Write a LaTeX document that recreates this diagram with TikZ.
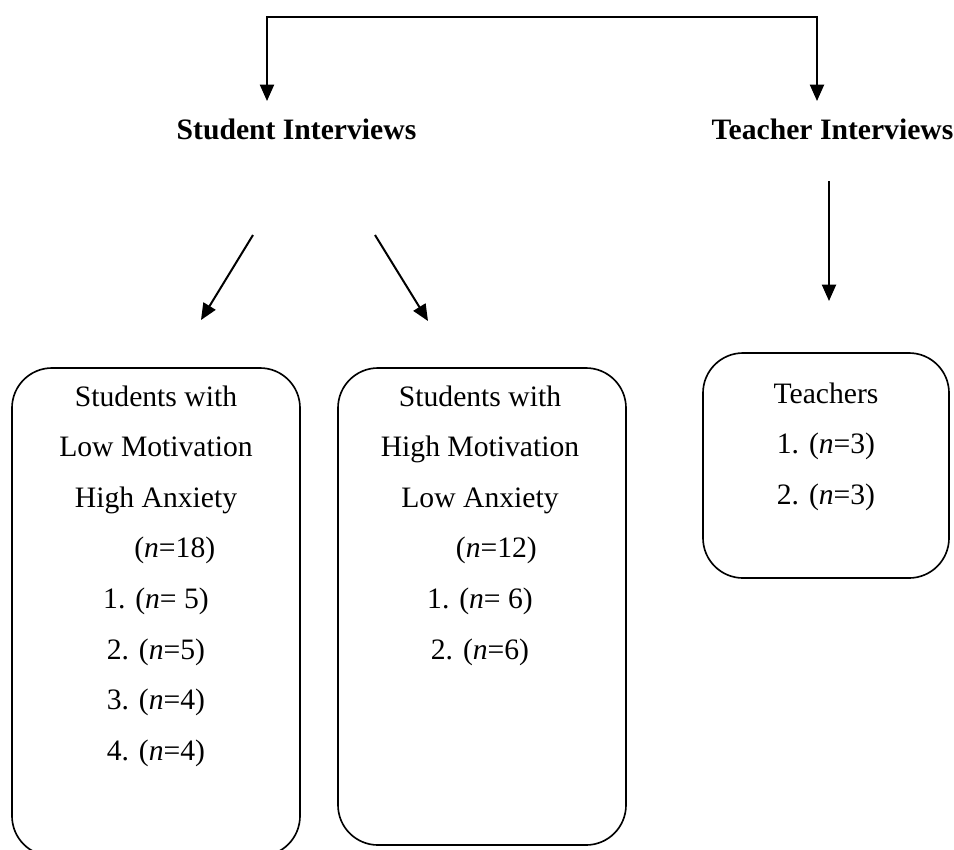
\documentclass[tikz,border=0pt]{standalone}
\usepackage{fontspec}
\setmainfont{Liberation Serif}
\usetikzlibrary{arrows.meta, positioning}
\tikzset{
  font=\fontsize{12.65}{15}\selectfont,
  >={Triangle[length=7pt, width=6pt]},
  %
  group/.style={draw=black, line width=0.7pt, rounded corners=0.6cm,
                minimum width=4.32cm, inner sep=0pt},
  title/.style={font=\fontsize{12.65}{15}\selectfont\bfseries, inner sep=0pt, anchor=base},
  list/.style={font=\fontsize{12.65}{21.6}\selectfont, align=center, inner sep=0pt, anchor=north},
  %
  flow/.style={draw=black, line width=0.85pt, ->},
}

\begin{document}
\begin{tikzpicture}[x=0.015cm, y=-0.015cm]
  \useasboundingbox (0,0) rectangle (954,849);

  % ---- titles -----------------------------------------------------------
  \node[title] (stutitle) at (296.5,139) {Student Interviews};
  \node[title] (teatitle) at (832.5,139) {Teacher Interviews};

  % ---- groups -----------------------------------------------------------
  \node[group, minimum height=7.32cm] (lowbox) at (156,612) {};
  \node[group, minimum height=7.155cm] (highbox) at (482,606.5) {};
  \node[group, minimum width=3.69cm, minimum height=3.375cm] (teabox) at (826,465.5) {};

  \node[list] (lowtext) at (156,385)
    {Students with\\Low Motivation\\High Anxiety\\\hspace*{16pt}(\textit{n}=18)\\
     1. (\textit{n}= 5)\\2. (\textit{n}=5)\\3. (\textit{n}=4)\\4. (\textit{n}=4)};
  \node[list] (hightext) at (480,385)
    {Students with\\High Motivation\\Low Anxiety\\\hspace*{14pt}(\textit{n}=12)\\
     1. (\textit{n}= 6)\\2. (\textit{n}=6)};
  \node[list] (teatext) at (826,382)
    {Teachers\\1. (\textit{n}=3)\\2. (\textit{n}=3)};

  % ---- arrows -----------------------------------------------------------
  \coordinate (stuend) at (267,101);
  \coordinate (teaend) at (817,101);
  \coordinate (splitright) at (817,17);
  \draw[flow, <->] (stuend) |- (splitright) -- (teaend);

  \coordinate (lowtail) at (253,235);
  \coordinate (lowhead) at (201,320);
  \coordinate (hightail) at (375,235);
  \coordinate (highhead) at (428,321);
  \coordinate (teatail) at (829,181);
  \coordinate (teahead) at (829,301);
  \draw[flow] (lowtail) -- (lowhead);
  \draw[flow] (hightail) -- (highhead);
  \draw[flow] (teatail) -- (teahead);

\end{tikzpicture}
\end{document}
